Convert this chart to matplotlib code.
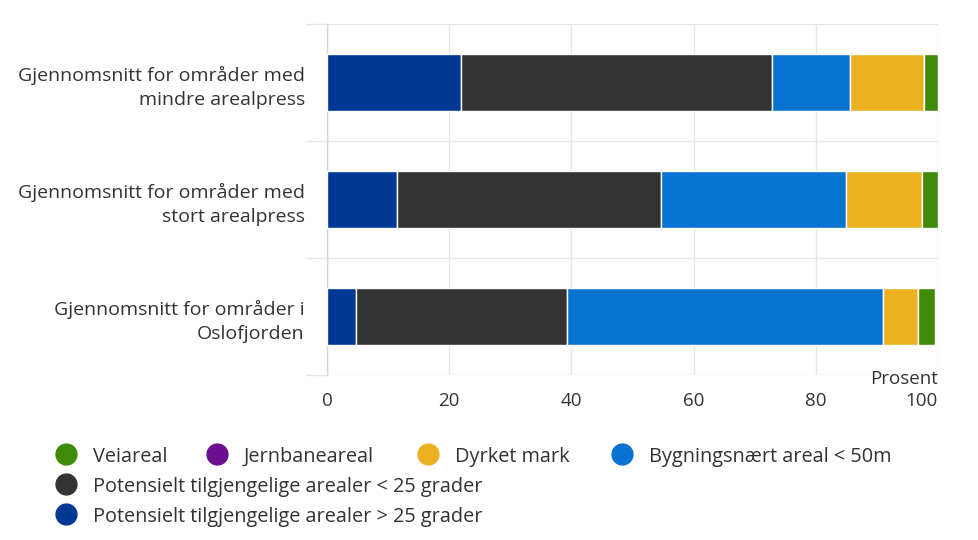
import matplotlib
matplotlib.use("Agg")
import matplotlib.pyplot as plt
from matplotlib.lines import Line2D
import numpy as np

plt.rcParams['font.family'] = ['Open Sans', 'DejaVu Sans']

categories = ["Gjennomsnitt for områder med\nmindre arealpress",
              "Gjennomsnitt for områder med\nstort arealpress",
              "Gjennomsnitt for områder i\nOslofjorden"]

# stacking order from left to right
series_names = ["Potensielt tilgjengelige arealer > 25 grader",
                "Potensielt tilgjengelige arealer < 25 grader",
                "Bygningsnært areal < 50m",
                "Dyrket mark",
                "Jernbaneareal",
                "Veiareal"]
over25 = [22.0, 11.4, 4.8]
under25 = [50.9, 43.3, 34.4]
bygning = [12.7, 30.2, 51.8]
dyrket = [12.1, 12.4, 5.7]
jernbane = [0.0, 0.0, 0.0]
vei = [2.3, 2.7, 2.8]
values = [over25, under25, bygning, dyrket, jernbane, vei]
colors = ["#003893", "#333333", "#0973d2", "#ecb120", "#6c0f8f", "#3f8a06"]

xticks = [0, 20, 40, 60, 80, 100]

fig = plt.figure(figsize=(9.79, 5.40), dpi=100)
ax = fig.add_axes([327/979, 1-375/540, (938-327)/979, (375-24)/540])

y = np.arange(len(categories))
left = np.zeros(len(categories))
for name, vals, c in zip(series_names, values, colors):
    v = np.array(vals)
    ax.barh(y, v, left=left, height=0.48, color=c, edgecolor="white", linewidth=1.0, zorder=3)
    left += v

ax.set_xlim(0, 100)
ax.set_ylim(2.5, -0.5)
ax.set_xticks(xticks)
ax.set_xticklabels([str(t) for t in xticks], fontsize=13.5, color="#333333")
ax.get_xticklabels()[-1].set_horizontalalignment('right')
ax.tick_params(axis='x', length=0, pad=12)
ax.set_yticks(y)
ax.set_yticklabels(categories, fontsize=14, color="#333333", linespacing=1.4)
ax.tick_params(axis='y', length=0, pad=16)
ax.set_yticks([-0.5, 0.5, 1.5, 2.5], minor=True)
ax.tick_params(axis='y', which='minor', length=15, color="#e6e6e6", width=1)
ax.grid(axis='x', color="#e6e6e6", linewidth=1, zorder=0)
ax.grid(axis='y', which='minor', color="#e6e6e6", linewidth=1, zorder=0)
for s in ['top', 'right', 'bottom']:
    ax.spines[s].set_visible(False)
ax.spines['left'].set_color("#ccd6eb")
ax.spines['left'].set_linewidth(1)

fig.text(938/979, 1-384/540, "Prosent", ha='right', va='baseline', fontsize=13.5, color="#333333")

# legend (manual Highcharts-like layout)
legend_items = [
    ("Veiareal", colors[5], 66, 457),
    ("Jernbaneareal", colors[4], 217, 457),
    ("Dyrket mark", colors[3], 428, 457),
    ("Bygningsnært areal < 50m", colors[2], 622, 457),
    ("Potensielt tilgjengelige arealer < 25 grader", colors[1], 66, 487),
    ("Potensielt tilgjengelige arealer > 25 grader", colors[0], 66, 517),
]
for label, c, xm, ym in legend_items:
    fig.add_artist(Line2D([xm/979], [1-(ym-3)/540], marker='o', markersize=15,
                          color=c, linestyle='None', transform=fig.transFigure))
    fig.text((xm+27)/979, 1-ym/540, label, ha='left', va='center', fontsize=14.3, color="#333333")

fig.savefig("out.png", dpi=100)
